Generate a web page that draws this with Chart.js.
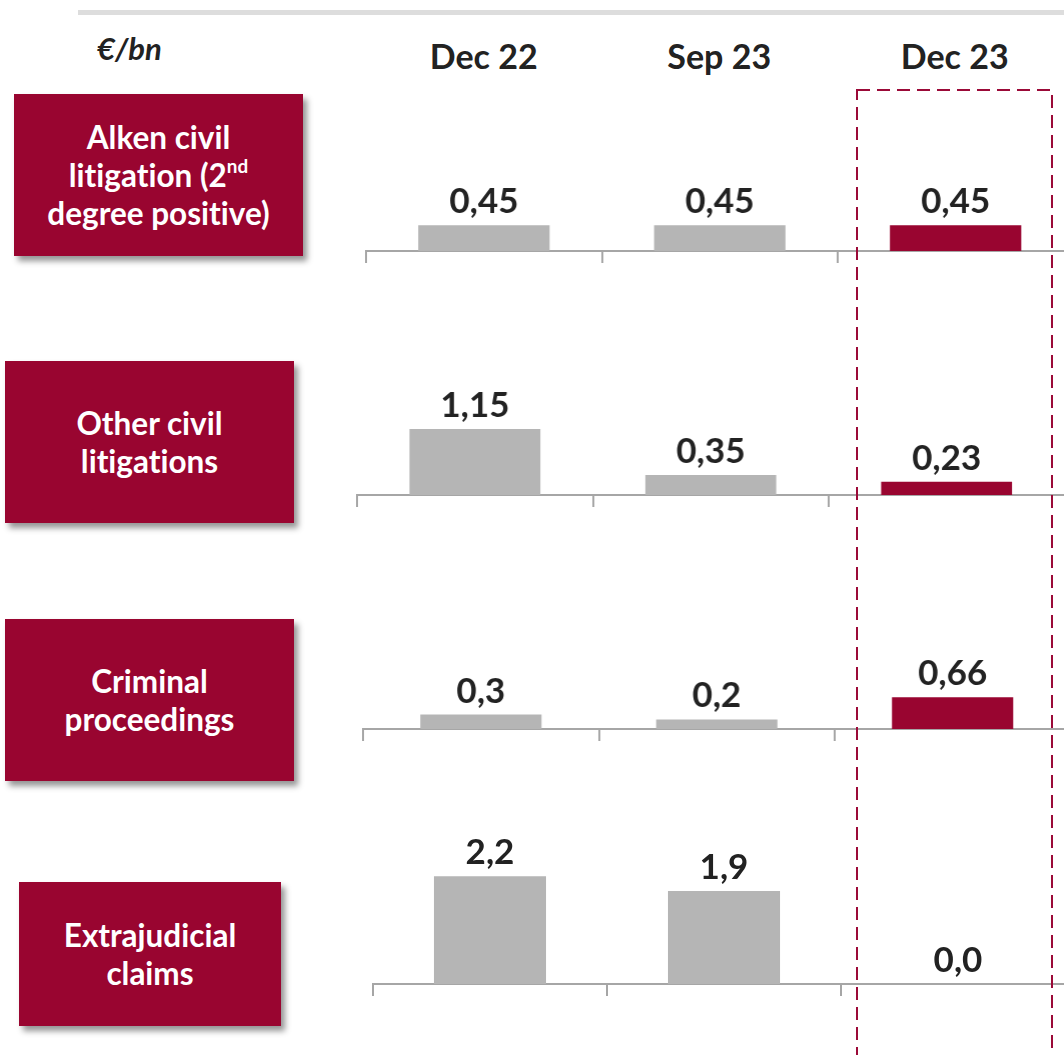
<!DOCTYPE html>
<html><head><meta charset="utf-8">
<script src="https://cdn.jsdelivr.net/npm/chart.js@4"></script>
<style>
html,body{margin:0;padding:0;width:1064px;height:1055px;overflow:hidden;background:#fff;font-family:Lato,'Open Sans',sans-serif;font-variant-ligatures:none;}
.box{position:absolute;background:#990530;color:#fff;font-weight:700;font-size:31.5px;line-height:38px;display:flex;align-items:center;justify-content:center;text-align:center;box-shadow:4px 5px 6px rgba(0,0,0,0.42);}
.box sup{font-size:0.6em;line-height:0;vertical-align:0.75em;}
.hdr{position:absolute;font-weight:700;font-size:34px;line-height:34px;color:#222;transform:translateX(-50%);white-space:nowrap;}
.unit{position:absolute;font-weight:700;font-style:italic;font-size:31px;line-height:31px;color:#222;white-space:nowrap;}
.topline{position:absolute;left:78px;top:10px;width:1000px;height:5px;background:#DDDDDD;}
.wrap{position:absolute;}
</style></head><body>
<div class="topline"></div>
<div class="unit" id="unit" style="left:97px;top:33px;"></div>
<svg id="dash" style="position:absolute;left:0;top:0;width:1064px;height:1055px;z-index:5;pointer-events:none" width="1064" height="1055">
  <rect x="857" y="90" width="195" height="1000" fill="none" stroke="#9B0A38" stroke-width="2.2" stroke-dasharray="13 7" shape-rendering="crispEdges"/>
</svg>
<script>
// ---- data ----
const unitLabel = '€/bn';
const categories = ['Dec 22', 'Sep 23', 'Dec 23'];
const rowLabels = [
  'Alken civil<br>litigation (2<sup>nd</sup><br>degree positive)',
  'Other civil<br>litigations',
  'Criminal<br>proceedings',
  'Extrajudicial<br>claims'
];
const alkenCivil = [0.45, 0.45, 0.45];
const otherCivil = [1.15, 0.35, 0.23];
const criminal = [0.3, 0.2, 0.66];
const extrajudicial = [2.2, 1.9, 0.0];
const series = [alkenCivil, otherCivil, criminal, extrajudicial];

// ---- layout / style ----
const GRAY = '#B5B5B5', RED = '#990530', AXIS = '#A6A6A6';
const PLOT_H = 170, TICK = 12, PAD = 2;
const rowsGeo = [
  {left: 366, axisY: 251, catW: 235.5, barPct: 0.557, yMax: 170/57.5, box:{l:14, t:94, w:289, h:162}},
  {left: 357, axisY: 495, catW: 235.5, barPct: 0.555, yMax: 170/57.3, box:{l:5, t:361, w:289, h:162}},
  {left: 363, axisY: 729, catW: 235.5, barPct: 0.514, yMax: 170/48.0, box:{l:5, t:619, w:289, h:162}},
  {left: 373, axisY: 984, catW: 234.0, barPct: 0.479, yMax: 170/49.0, box:{l:19, t:882, w:262, h:144}}
];

function fmt(v){
  const s = Number.isInteger(v) ? v.toFixed(1) : String(v);
  return s.replace('.', ',');
}

const valueLabels = {
  id: 'valueLabels',
  afterDatasetsDraw(chart){
    const ctx = chart.ctx;
    const meta = chart.getDatasetMeta(0);
    const data = chart.data.datasets[0].data;
    ctx.save();
    ctx.font = '700 35px Lato';
    ctx.fillStyle = '#222222';
    ctx.textAlign = 'center';
    ctx.textBaseline = 'alphabetic';
    meta.data.forEach((bar, j) => {
      ctx.fillText(fmt(data[j]), bar.x, bar.y - 12);
    });
    ctx.restore();
  }
};

document.getElementById('unit').textContent = unitLabel;

const charts = [];
rowsGeo.forEach((g, i) => {
  const box = document.createElement('div');
  box.className = 'box';
  box.style.left = g.box.l + 'px'; box.style.top = g.box.t + 'px';
  box.style.width = g.box.w + 'px'; box.style.height = g.box.h + 'px';
  box.innerHTML = '<div>' + rowLabels[i] + '</div>';
  document.body.appendChild(box);

  const wrap = document.createElement('div');
  wrap.className = 'wrap';
  const w = g.catW * categories.length + PAD;
  wrap.style.cssText = `left:${g.left - PAD}px;top:${g.axisY - PLOT_H}px;width:${w}px;height:${PLOT_H + TICK}px;`;
  const c = document.createElement('canvas');
  wrap.appendChild(c);
  document.body.appendChild(wrap);

  const chart = new Chart(c, {
    type: 'bar',
    data: {
      labels: categories,
      datasets: [{
        data: series[i],
        backgroundColor: [GRAY, GRAY, RED],
        borderWidth: 0,
        barPercentage: g.barPct,
        categoryPercentage: 1
      }]
    },
    options: {
      responsive: true,
      maintainAspectRatio: false,
      animation: false,
      events: [],
      layout: {padding: {left: PAD, right: 0, top: 0, bottom: 0}},
      plugins: {legend: {display: false}, tooltip: {enabled: false}},
      scales: {
        x: {
          offset: true,
          grid: {offset: true, drawOnChartArea: false, drawTicks: true, tickLength: TICK, color: AXIS, lineWidth: 2},
          border: {display: true, color: AXIS, width: 2},
          ticks: {display: false}
        },
        y: {display: false, min: 0, max: g.yMax}
      }
    },
    plugins: [valueLabels]
  });
  charts.push({chart, g});
});

// column headers positioned from the first chart's category scale
const first = charts[0];
categories.forEach((cat, j) => {
  const d = document.createElement('div');
  d.className = 'hdr';
  const x = first.chart.scales.x.getPixelForValue(j) + first.g.left - PAD;
  d.style.left = x + 'px';
  d.style.top = '39px';
  d.textContent = cat;
  document.body.appendChild(d);
});
</script>
</body></html>
